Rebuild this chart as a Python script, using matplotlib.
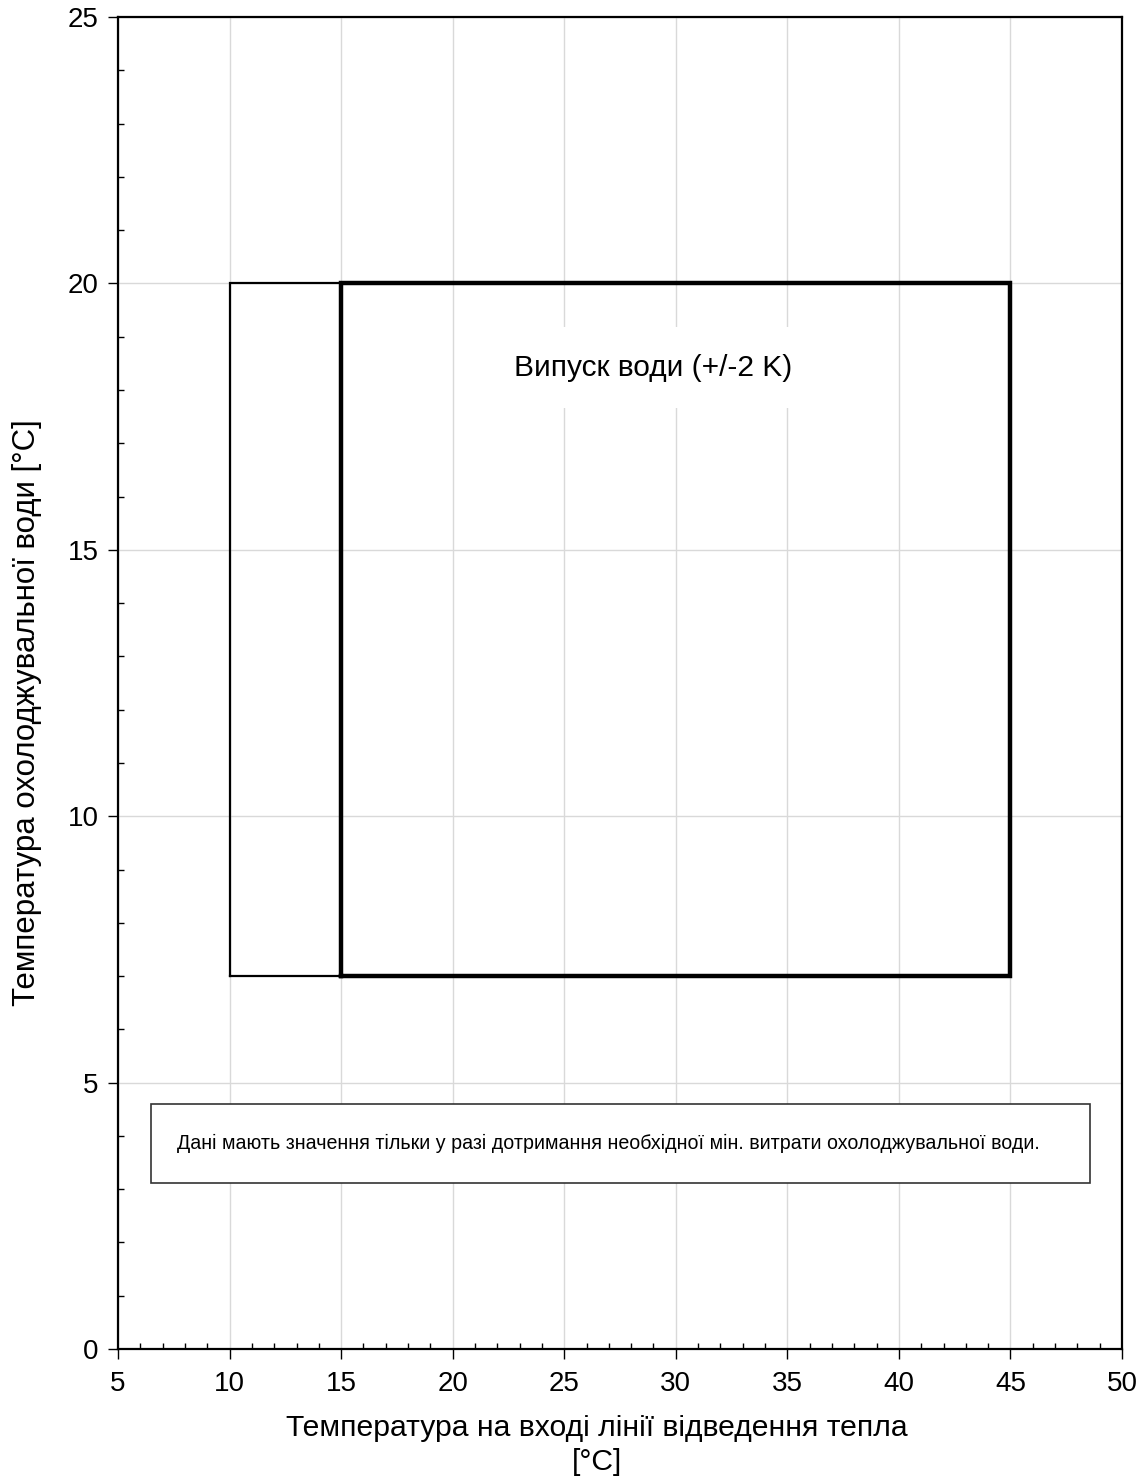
import matplotlib
matplotlib.use("Agg")
import matplotlib.pyplot as plt
from matplotlib.patches import Rectangle
from matplotlib.ticker import MultipleLocator

plt.rcParams['font.family'] = ['Liberation Sans', 'DejaVu Sans']

# operating envelope: heat rejection inlet temp (x) vs cooling water temp (y)
outer_x = [10, 45, 45, 10, 10]
outer_y = [7, 7, 20, 20, 7]
main_x = [15, 45, 45, 15, 15]
main_y = [7, 7, 20, 20, 7]

x_ticks = [5, 10, 15, 20, 25, 30, 35, 40, 45, 50]
y_ticks = [0, 5, 10, 15, 20, 25]

area_label = "Випуск води (+/-2 K)"
note_text = "Дані мають значення тільки у разі дотримання необхідної мін. витрати охолоджувальної води."
x_label = "Температура на вході лінії відведення тепла\n[°C]"
y_label = "Температура охолоджувальної води [°C]"

fig = plt.figure(figsize=(11.47, 14.81), dpi=100)
ax = fig.add_axes([0.1029, 0.0891, 0.8753, 0.8994])

ax.set_xlim(5, 50)
ax.set_ylim(0, 25)
ax.set_xticks(x_ticks)
ax.set_yticks(y_ticks)
ax.xaxis.set_minor_locator(MultipleLocator(1))
ax.yaxis.set_minor_locator(MultipleLocator(1))
ax.tick_params(which='major', direction='out', length=7, width=1, labelsize=20, pad=7)
ax.tick_params(axis='x', which='major', pad=9)
ax.tick_params(which='minor', direction='in', length=4, width=1)
ax.grid(True, which='major', color='#d9d9d9', linewidth=1)
ax.set_axisbelow(True)
for s in ax.spines.values():
    s.set_linewidth(1.6)
    s.set_color('black')

ax.plot(outer_x, outer_y, color='black', linewidth=1.6, solid_joinstyle='miter', zorder=3)
ax.plot(main_x, main_y, color='black', linewidth=3.2, solid_joinstyle='miter', zorder=4)

ax.text(29, 18.42, area_label, fontsize=21.5, ha='center', va='center', zorder=5,
        bbox=dict(boxstyle='square,pad=0.9', facecolor='white', edgecolor='none'))

ax.add_patch(Rectangle((6.48, 3.12), 42.09, 1.48, facecolor='white',
                       edgecolor='#333333', linewidth=1.2, zorder=5))
ax.text(7.64, 3.86, note_text, fontsize=14.1, ha='left', va='center', zorder=6)

ax.set_xlabel(x_label, fontsize=21.7, linespacing=1.28)
ax.xaxis.set_label_coords(0.477, -0.049, transform=ax.transAxes)
ax.xaxis.label.set_va('top')
ax.set_ylabel(y_label, fontsize=22.5)
ax.yaxis.set_label_coords(-0.0906, 0.478, transform=ax.transAxes)
ax.yaxis.label.set_va('center')

fig.savefig('out.png', dpi=100)
